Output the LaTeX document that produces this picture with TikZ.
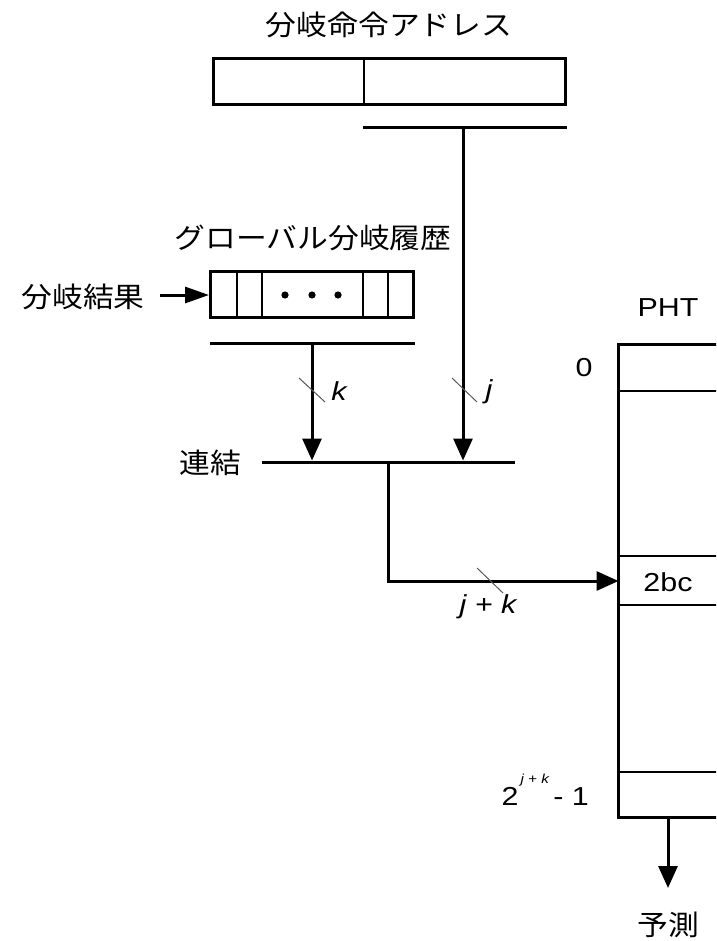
\documentclass[tikz,border=0pt]{standalone}
\usepackage{fontspec}
\setmainfont{Liberation Sans}[FakeStretch=1.17]
\newfontfamily\jp{Noto Sans CJK JP}[FakeStretch=1.1]
\usetikzlibrary{arrows.meta}
\begin{document}
\begin{tikzpicture}[x=1pt,y=-1pt,
 thickln/.style={line width=3pt},
 thinln/.style={line width=1.3pt},
 arr/.style={line width=3pt,-{Triangle[length=22pt,width=19pt]}},
 slash/.style={line width=1pt, black!65},
 jptext/.style={font=\jp\fontsize{28}{34}\selectfont, inner sep=0pt},
 lbl/.style={font=\fontsize{26}{30}\selectfont\itshape, inner sep=0pt},
 num/.style={font=\fontsize{26}{30}\selectfont, inner sep=0pt},
 regbox/.style={draw, line width=3pt, inner sep=0pt},
]
\useasboundingbox (0,0) rectangle (716,941);
\clip (0,0) rectangle (716,941);

% branch address
\node[jptext] (title) at (389,25) {分岐命令アドレス};
\node[regbox, minimum width=352pt, minimum height=46pt] (addr) at (389.5,81.5) {};
\draw[thinln] (364,58.5) -- (364,104.5);
\coordinate (abL) at (363,128);
\coordinate (abR) at (567,128);
\draw[thickln] (abL) -- (abR);
\coordinate (aj) at (463,128);

% global history
\node[jptext] (ghtitle) at (313,238) {グローバル分岐履歴};
\node[regbox, minimum width=203pt, minimum height=46pt] (hist) at (312,294.5) {};
\foreach \xx in {237,262,363,388} \draw[thinln] (\xx,271.5) -- (\xx,317.5);
\foreach \xx in {285,312,338} \fill (\xx,295) circle (3.6pt);
\node[jptext] (res) at (83,297) {分岐結果};
\coordinate (resE) at (160,295);
\draw[line width=3pt,-{Triangle[length=24pt,width=16pt]}] (resE) -- (hist.west |- resE);
\coordinate (hbL) at (210,343);
\coordinate (hbR) at (415,343);
\draw[thickln] (hbL) -- (hbR);
\coordinate (hk) at (312,343);

% concat
\coordinate (cL) at (262,462);
\coordinate (cR) at (515,462);
\draw[thickln] (cL) -- (cR);
\node[jptext] (concat) at (210,463) {連結};
\coordinate (ck) at (312,460.5);
\coordinate (cj) at (463,460.5);
\coordinate (cm) at (388,462);
\draw[arr] (hk) -- (ck);
\draw[arr] (aj) -- (cj);
\draw[slash] (299,378) -- (325,402);
\node[lbl] (klbl) at (339,391) {k};
\draw[slash] (452,378) -- (477,402);
\node[lbl] (jlbl) at (489,392) {j};

% PHT
\node[num] (phtlbl) at (668,308) {PHT};
\node[regbox, minimum width=200pt, minimum height=473pt] (pht) at (718.5,581) {};
\foreach \yy in {391,556,605,772} \draw[thinln] (618.5,\yy) -- (720,\yy);
\node[num] (zero) at (584,368) {0};
\node[num] (bc) at (668,582) {2bc};
\node[num, anchor=base east] (last) at (589,805) {2\raisebox{22pt}{\fontsize{13}{13}\selectfont\itshape\,j + k}\,- 1};

\coordinate (row) at (618.5,581);
\draw[arr] (cm) |- (row);
\draw[slash] (477,568) -- (503,593);
\node[lbl] (jklbl) at (488,607) {j + k};

% prediction
\coordinate (pout) at (668,817.5);
\coordinate (pend) at (668,888);
\draw[arr] (pout) -- (pend);
\node[jptext] (pred) at (668,925) {予測};
\end{tikzpicture}
\end{document}
